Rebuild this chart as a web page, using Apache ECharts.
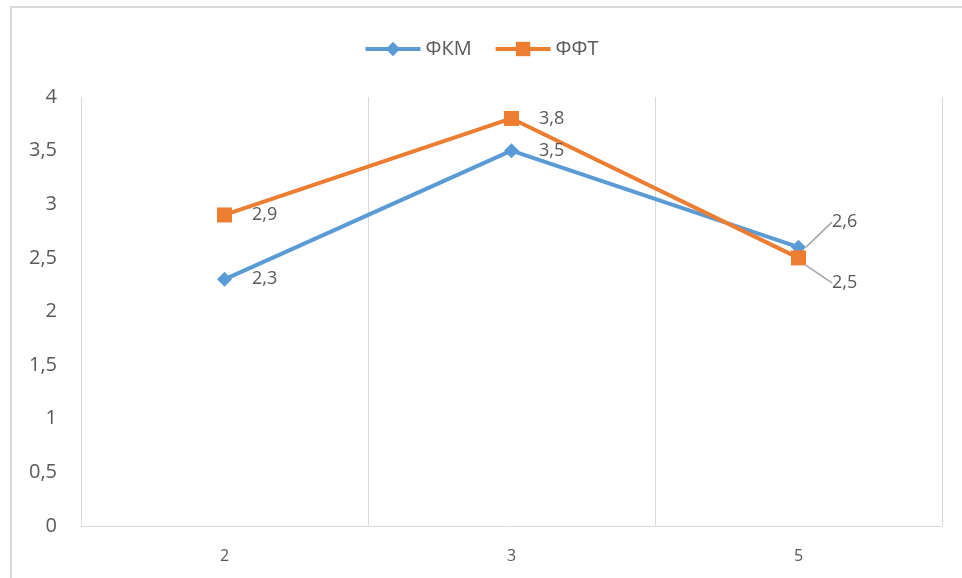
<!DOCTYPE html>
<html>
<head>
<meta charset="utf-8">
<script src="https://cdn.jsdelivr.net/npm/echarts@6/dist/echarts.min.js"></script>
<style>
  html, body { margin: 0; padding: 0; background: #fff; }
  #chart { width: 962px; height: 578px; }
</style>
</head>
<body>
<div id="chart"></div>
<script>
// Categories and series values
const categories = ['2', '3', '5'];
const seriesNames = ['ФКМ', 'ФФТ'];
const fkmValues = [2.3, 3.5, 2.6];
const fftValues = [2.9, 3.8, 2.5];
const yTicks = { min: 0, max: 4, interval: 0.5 };

const FONT = '"Open Sans", "Noto Sans", sans-serif';
const commaFmt = v => String(v).replace('.', ',');

const chart = echarts.init(document.getElementById('chart'));

const labelBase = {
  show: true,
  position: 'right',
  distance: 20,
  color: '#595959',
  fontSize: 18,
  fontFamily: FONT,
  formatter: p => commaFmt(p.value)
};

// Leader lines only for the last point, whose labels are moved apart
const lastPointLayout = dy => p => p.dataIndex === 2
  ? { dy: dy, dx: 6, labelLinePoints: null }
  : {};

chart.setOption({
  animation: false,
  backgroundColor: '#fff',
  graphic: [{
    type: 'rect',
    shape: { x: 11, y: 7, width: 1000, height: 600 },
    style: { fill: 'none', stroke: '#d9d9d9', lineWidth: 2 },
    silent: true
  }],
  legend: {
    top: 34,
    left: 'center',
    itemWidth: 55,
    itemHeight: 18,
    itemGap: 22,
    textStyle: { color: '#595959', fontSize: 20, fontFamily: FONT },
    lineStyle: { width: 4 },
    data: seriesNames
  },
  grid: { left: 81, right: 20, top: 97, bottom: 52, containLabel: false },
  xAxis: {
    type: 'category',
    data: categories,
    boundaryGap: true,
    axisLine: { show: true, lineStyle: { color: '#d9d9d9', width: 1 } },
    axisTick: { show: false },
    splitLine: { show: true, lineStyle: { color: '#d9d9d9', width: 1 } },
    axisLabel: { color: '#595959', fontSize: 16, fontFamily: FONT, margin: 22 }
  },
  yAxis: {
    type: 'value',
    min: yTicks.min,
    max: yTicks.max,
    interval: yTicks.interval,
    axisLine: { show: false },
    axisTick: { show: false },
    splitLine: { show: false },
    axisLabel: {
      color: '#595959', fontSize: 20, fontFamily: FONT, margin: 24,
      formatter: v => commaFmt(v)
    }
  },
  series: [
    {
      name: seriesNames[0],
      type: 'line',
      data: fkmValues.map((v, i) => i === 2
        ? { value: v, labelLine: { show: true } }
        : { value: v, labelLine: { show: false } }),
      color: '#5B9BD5',
      lineStyle: { width: 4, color: '#5B9BD5' },
      symbol: 'diamond',
      symbolSize: 15,
      itemStyle: { color: '#5B9BD5' },
      label: labelBase,
      labelLine: { lineStyle: { color: '#a6a6a6', width: 1.5 } },
      labelLayout: p => p.dataIndex === 2 ? { dy: -25, dx: 6 } : {}
    },
    {
      name: seriesNames[1],
      type: 'line',
      data: fftValues.map((v, i) => i === 2
        ? { value: v, labelLine: { show: true } }
        : { value: v, labelLine: { show: false } }),
      color: '#ED7D31',
      lineStyle: { width: 4, color: '#ED7D31' },
      symbol: 'rect',
      symbolSize: 15,
      itemStyle: { color: '#ED7D31' },
      label: labelBase,
      labelLine: { lineStyle: { color: '#a6a6a6', width: 1.5 } },
      labelLayout: p => p.dataIndex === 2 ? { dy: 25, dx: 6 } : {}
    }
  ]
});
</script>
</body>
</html>
